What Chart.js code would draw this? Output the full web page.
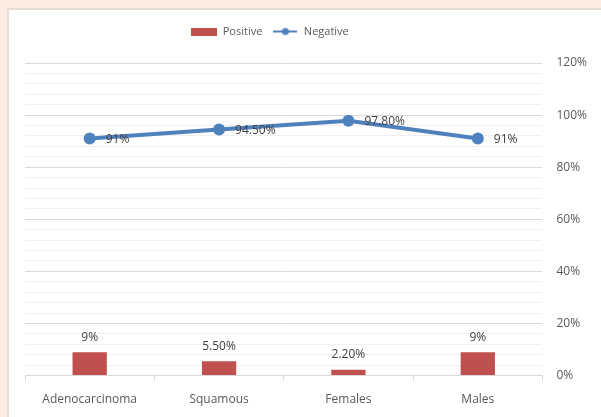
<!DOCTYPE html>
<html>
<head>
<meta charset="utf-8">
<script src="https://cdn.jsdelivr.net/npm/chart.js@4/dist/chart.umd.min.js"></script>
<style>
  html, body { margin: 0; padding: 0; background: #fcede2; overflow: hidden; }
  #frame {
    position: absolute; left: 7px; top: 8px; width: 594px; height: 409px;
    background: #fff; border-left: 2px solid #e4ddd6; border-top: 2px solid #e4ddd6;
    overflow: hidden;
  }
  #wrap { position: absolute; left: 0; top: 0; width: 592px; height: 411px; }
</style>
</head>
<body>
<div id="frame"><div id="wrap"><canvas id="chart"></canvas></div></div>
<script>
const categories = ['Adenocarcinoma', 'Squamous', 'Females', 'Males'];
const positive = [9, 5.5, 2.2, 9];
const negative = [91, 94.5, 97.8, 91];
const positiveLabels = ['9%', '5.50%', '2.20%', '9%'];
const negativeLabels = ['91%', '94.50%', '97.80%', '91%'];

const RED = '#c0504d';
const BLUE = '#4f81bd';
const TEXT = '#595959';
const FONT = "'Open Sans', 'DejaVu Sans', sans-serif";

// legend swatches
function barSwatch() {
  const c = document.createElement('canvas');
  c.width = 26; c.height = 8;
  const g = c.getContext('2d');
  g.fillStyle = RED;
  g.fillRect(0, 0, 26, 8);
  return c;
}
function lineSwatch() {
  const c = document.createElement('canvas');
  c.width = 24; c.height = 10;
  const g = c.getContext('2d');
  g.strokeStyle = BLUE; g.lineWidth = 2;
  g.beginPath(); g.moveTo(0, 5); g.lineTo(24, 5); g.stroke();
  g.fillStyle = BLUE;
  g.beginPath(); g.arc(12, 5, 3.5, 0, Math.PI * 2); g.fill();
  return c;
}

// extra room under the legend, and legend nudged left of centre
const legendGap = {
  id: 'legendGap',
  beforeInit(chart) {
    const fit = chart.legend.fit;
    chart.legend.fit = function () {
      fit.bind(chart.legend)();
      this.height += 16;
    };
  },
  afterLayout(chart) {
    chart.legend.left -= 43;
    chart.legend.right -= 43;
  }
};

// value labels: bars above, line points to the right
const valueLabels = {
  id: 'valueLabels',
  afterDatasetsDraw(chart) {
    const ctx = chart.ctx;
    ctx.save();
    ctx.font = '12px ' + FONT;
    ctx.fillStyle = '#404040';
    ctx.textBaseline = 'middle';
    chart.getDatasetMeta(0).data.forEach((bar, i) => {
      ctx.textAlign = 'center';
      ctx.fillText(positiveLabels[i], bar.x, bar.y - 15);
    });
    chart.getDatasetMeta(1).data.forEach((pt, i) => {
      ctx.textAlign = 'left';
      ctx.fillText(negativeLabels[i], pt.x + 16, pt.y + 1);
    });
    ctx.restore();
  }
};

new Chart(document.getElementById('chart'), {
  data: {
    labels: categories,
    datasets: [
      {
        type: 'bar',
        label: 'Positive',
        data: positive,
        backgroundColor: RED,
        categoryPercentage: 1,
        barPercentage: 0.265,
        order: 2
      },
      {
        type: 'line',
        label: 'Negative',
        data: negative,
        borderColor: BLUE,
        backgroundColor: BLUE,
        borderWidth: 4,
        pointRadius: 6,
        pointHoverRadius: 6,
        pointBackgroundColor: BLUE,
        pointBorderWidth: 0,
        order: 1
      }
    ]
  },
  options: {
    responsive: true,
    maintainAspectRatio: false,
    animation: false,
    layout: { padding: { left: 16, right: 0, top: 6, bottom: 2 } },
    plugins: {
      tooltip: { enabled: false },
      legend: {
        position: 'top',
        labels: {
          color: TEXT,
          font: { family: FONT, size: 11 },
          usePointStyle: true,
          pointStyleWidth: 26,
          boxHeight: 8,
          padding: 10,
          generateLabels() {
            return [
              { text: 'Positive', pointStyle: barSwatch(), fontColor: TEXT, lineWidth: 0, datasetIndex: 0 },
              { text: 'Negative', pointStyle: lineSwatch(), fontColor: TEXT, lineWidth: 0, datasetIndex: 1 }
            ];
          }
        }
      }
    },
    scales: {
      x: {
        grid: {
          offset: true,
          drawOnChartArea: false,
          drawTicks: true,
          tickLength: 5,
          color: '#d9d9d9'
        },
        border: { display: true, color: '#d9d9d9' },
        ticks: {
          color: TEXT,
          font: { family: FONT, size: 12 },
          padding: 12
        }
      },
      y: {
        position: 'right',
        min: 0,
        max: 120,
        border: { display: false },
        grid: {
          drawTicks: false,
          color: ctx => (ctx.tick && ctx.tick.value % 20 === 0) ? '#d9d9d9' : '#efefef'
        },
        ticks: {
          stepSize: 4,
          autoSkip: false,
          padding: 14,
          color: TEXT,
          font: { family: FONT, size: 12 },
          callback: v => (v % 20 === 0 ? v + '%' : '')
        }
      }
    }
  },
  plugins: [legendGap, valueLabels]
});
</script>
</body>
</html>
